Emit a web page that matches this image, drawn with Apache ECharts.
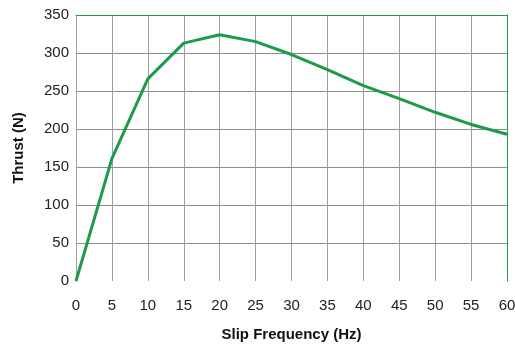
<!DOCTYPE html>
<html>
<head>
<meta charset="utf-8">
<script src="https://cdn.jsdelivr.net/npm/echarts@6/dist/echarts.min.js"></script>
<style>
  html, body { margin: 0; padding: 0; background: #fff; }
  #chart { width: 515px; height: 347px; }
</style>
</head>
<body>
<div id="chart"></div>
<script>
// slip frequency (Hz) vs thrust (N)
const slipFreq = [0, 5, 10, 15, 20, 25, 30, 35, 40, 45, 50, 55, 60];
const thrust = [0, 161, 266, 313, 324, 315, 298, 278, 257, 240, 222, 206, 193];

const GREEN = '#1e9a4c';
const FONT = '"Liberation Sans", Arial, sans-serif';

const chart = echarts.init(document.getElementById('chart'));

const options = {
    animation: false,
    grid: { left: 76, right: 8, top: 15, bottom: 66, containLabel: false, outerBoundsMode: 'none' },
    xAxis: [
        {
            type: 'value',
            min: 0, max: 60, interval: 5,
            name: 'Slip Frequency (Hz)',
            nameLocation: 'middle',
            nameGap: 46,
            nameTextStyle: { fontFamily: FONT, fontWeight: 'bold', fontSize: 15, color: '#111' },
            axisLine: { show: false },
            axisTick: { show: false },
            axisLabel: { fontFamily: FONT, fontSize: 15, color: '#222', margin: 17 },
            splitLine: { show: true, showMaxLine: false, lineStyle: { color: '#a0a0a0', width: 1 } },
        },
        {
            type: 'value',
            position: 'top',
            min: 0, max: 60,
            axisLine: { show: true, onZero: false, lineStyle: { color: GREEN, width: 1 } },
            axisTick: { show: false },
            axisLabel: { show: false },
            splitLine: { show: false },
        },
    ],
    yAxis: [
        {
            type: 'value',
            min: 0, max: 350, interval: 50,
            name: 'Thrust (N)',
            nameLocation: 'middle',
            nameGap: 50,
            nameTextStyle: { fontFamily: FONT, fontWeight: 'bold', fontSize: 15, color: '#111' },
            axisLine: { show: true, onZero: false, lineStyle: { color: '#a0a0a0', width: 1 } },
            axisTick: { show: false },
            axisLabel: { fontFamily: FONT, fontSize: 15, color: '#222', margin: 7 },
            splitLine: { show: true, showMinLine: false, showMaxLine: false, lineStyle: { color: '#8c8c8c', width: 1 } },
        },
        {
            type: 'value',
            position: 'right',
            min: 0, max: 350,
            axisLine: { show: true, onZero: false, lineStyle: { color: GREEN, width: 1 } },
            axisTick: { show: false },
            axisLabel: { show: false },
            splitLine: { show: false },
        },
    ],
    series: [
        {
            type: 'line',
            data: slipFreq.map((f, i) => [f, thrust[i]]),
            showSymbol: false,
            lineStyle: { color: GREEN, width: 3 },
            z: 5,
        },
    ],
};

chart.setOption(options);
</script>
</body>
</html>
